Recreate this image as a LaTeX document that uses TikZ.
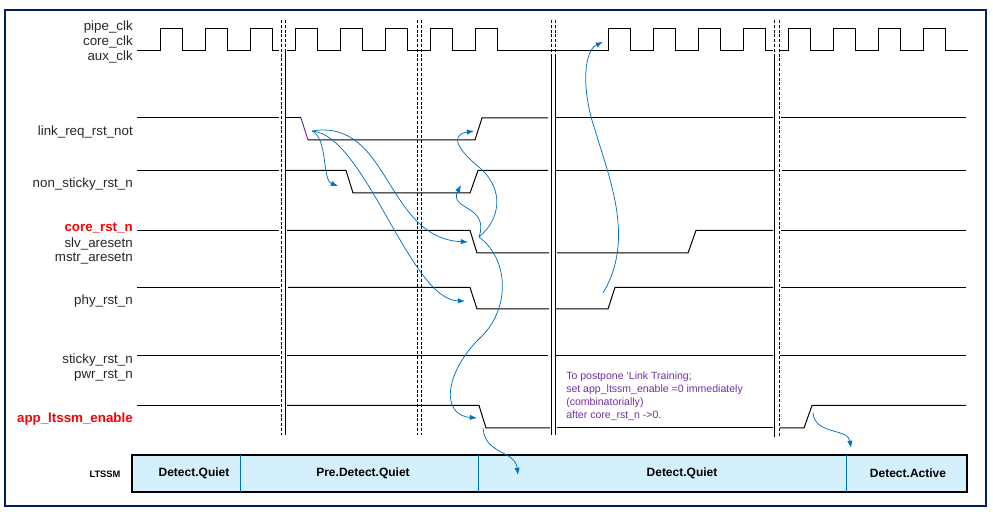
\documentclass[tikz,border=0pt]{standalone}
\usepackage{fontspec}
\setmainfont{Liberation Sans}
\usepackage{tikz}
\usetikzlibrary{arrows.meta}

\definecolor{navy}{RGB}{0,32,96}
\definecolor{linkblue}{RGB}{0,112,192}
\definecolor{notepurple}{RGB}{112,48,160}
\definecolor{statefill}{RGB}{212,240,252}

\begin{document}
\begin{tikzpicture}[x=0.75pt, y=-0.75pt,
    wave/.style={line width=0.75pt, black},
    lbl/.style={anchor=east, inner sep=0pt, text=black!85, font=\fontsize{10}{12}\selectfont},
    hot/.style={lbl, text=red, font=\fontsize{10}{12}\selectfont\bfseries},
    brk/.style={line width=0.65pt},
    brkdash/.style={brk, dash pattern=on 2.2pt off 1.4pt},
    arrow/.style={-{Latex[length=1.9mm,width=1.4mm]}, linkblue, line width=0.55pt},
    state/.style={font=\fontsize{9}{11}\selectfont\bfseries}
]
\useasboundingbox (0,0) rectangle (993,516);
\draw[navy, line width=1pt] (5,10) rectangle (986,506);

\node[lbl] (pipe) at (133,27) {pipe\_clk};
\node[lbl] (core) at (133,42) {core\_clk};
\node[lbl] (aux) at (133,57) {aux\_clk};
\node[lbl] (lrq) at (133,132) {link\_req\_rst\_not};
\node[lbl] (nsr) at (133,184) {non\_sticky\_rst\_n};
\node[hot] (crst) at (133,228) {core\_rst\_n};
\node[lbl] (slv) at (133,244) {slv\_aresetn};
\node[lbl] (mstr) at (133,259) {mstr\_aresetn};
\node[lbl] (phy) at (133,301) {phy\_rst\_n};
\node[lbl] (sticky) at (133,360) {sticky\_rst\_n};
\node[lbl] (pwr) at (133,376) {pwr\_rst\_n};
\node[hot] (app) at (133,419) {app\_ltssm\_enable};

\draw[wave] (137,51) foreach \r in {160,205,250} {-- (\r,51) -- (\r,29) -- (\r+22.5,29) -- (\r+22.5,51)} -- (279,51);
\draw[wave] (287,51) foreach \r in {295,340,385,430,475,608,653,698,743} {-- (\r,51) -- (\r,29) -- (\r+22.5,29) -- (\r+22.5,51)} -- (773,51);
\draw[wave] (780,51) foreach \r in {788,833,878,923} {-- (\r,51) -- (\r,29) -- (\r+22.5,29) -- (\r+22.5,51)} -- (968,51);

\draw[wave] (137,118) -- (279,118);
\draw[wave] (286,118) -- (301,118);
\draw[wave, notepurple] (301,118) -- (308,140);
\draw[wave] (308,140) -- (475,140) -- (482,118) -- (548,118);
\draw[wave] (556,118) -- (773,118);
\draw[wave] (781,118) -- (966,118);

\draw[wave] (137,170.5) -- (279,170.5);
\draw[wave] (286,170.5) -- (346,170.5) -- (353,193) -- (470,193) -- (478,170.5) -- (548,170.5);
\draw[wave] (556,170.5) -- (775,170.5);
\draw[wave] (782,170.5) -- (966,170.5);

\draw[wave] (137,230.5) -- (279,230.5);
\draw[wave] (287,230.5) -- (470,230.5) -- (477,253) -- (549,253);
\draw[wave] (557,253) -- (688,253) -- (696,230.5) -- (773,230.5);
\draw[wave] (781,230.5) -- (966,230.5);

\draw[wave] (137,287.5) -- (280,287.5);
\draw[wave] (288,287.5) -- (470,287.5) -- (477,309) -- (549,309);
\draw[wave] (556,309) -- (608,309) -- (615,287.5) -- (773,287.5);
\draw[wave] (781,287.5) -- (966,287.5);

\draw[wave] (137,356) -- (280,356);
\draw[wave] (287,356) -- (548,356);
\draw[wave] (556,356) -- (773,356);
\draw[wave] (780,356) -- (966,356);

\draw[wave] (137,405.5) -- (280,405.5);
\draw[wave] (287,405.5) -- (479,405.5) -- (486,428) -- (550,428);
\draw[wave] (557,428) -- (773,428);
\draw[wave] (780,428) -- (804,428) -- (812,405.5) -- (966,405.5);

\draw[brkdash] (281,20) -- (281,435);
\draw[brkdash] (285,20) -- (285,50);
\draw[brk] (285,50) -- (285,435);
\draw[brkdash] (417,20) -- (417,435);
\draw[brkdash] (421,20) -- (421,435);
\draw[brkdash] (551,20) -- (551,55);
\draw[brkdash] (555,20) -- (555,55);
\draw[brk] (551,55) -- (551,435);
\draw[brk] (555,55) -- (555,435);
\draw[brkdash] (774.5,20) -- (774.5,55);
\draw[brk] (774.5,55) -- (774.5,437);
\draw[brkdash] (779,20) -- (779,437);

\node[anchor=north west, inner sep=0pt, align=left, text=notepurple, font=\fontsize{7.9}{9.75}\selectfont] (note) at (566,371.5)
  {To postpone ‘Link Training;\\set app\_ltssm\_enable =0 immediately\\(combinatorially)\\after core\_rst\_n ->0.};

\draw[fill=statefill, line width=0.8pt] (132,455) rectangle (967,492);
\foreach \x in {240,478,846} \draw[linkblue, line width=0.7pt] (\x,455) -- (\x,492);
\node[font=\fontsize{7}{8}\selectfont\bfseries] (ltssm) at (105,474) {LTSSM};
\node[state] (dq1) at (194,473.5) {Detect.Quiet};
\node[state] (pdq) at (363,473.5) {Pre.Detect.Quiet};
\node[state] (dq2) at (682,473.5) {Detect.Quiet};
\node[state] (da) at (908,473.5) {Detect.Active};

\coordinate (lrq-fall) at (312,131);
\coordinate (nsr-fall) at (338,186);
\coordinate (core-fall) at (468,242);
\coordinate (phy-fall) at (465,301);
\coordinate (core-out) at (479,237);
\coordinate (lrq-rise) at (474,131);
\coordinate (nsr-rise) at (461,185);
\coordinate (app-fall) at (477,418);
\coordinate (app-out) at (483,428);
\coordinate (dq2-in) at (518,475);
\coordinate (phy-rise) at (603,293);
\coordinate (clk-on) at (603,42);
\coordinate (app-rise) at (813,413);
\coordinate (da-in) at (851,448);

\draw[arrow] (lrq-fall) .. controls (328,138) and (322,180) .. (nsr-fall);
\draw[arrow] (lrq-fall) .. controls (390,118) and (385,238) .. (core-fall);
\draw[arrow] (lrq-fall) .. controls (365,135) and (410,300) .. (phy-fall);
\draw[arrow] (core-out) .. controls (500,220) and (505,190) .. (480,168) .. controls (460,152) and (448,135) .. (lrq-rise);
\draw[arrow] (core-out) .. controls (490,205) and (448,210) .. (nsr-rise);
\draw[arrow] (core-out) .. controls (510,260) and (510,310) .. (480,338) .. controls (445,372) and (440,415) .. (app-fall);
\draw[arrow] (app-out) .. controls (485,455) and (515,450) .. (dq2-in);
\draw[arrow] (phy-rise) .. controls (635,240) and (610,180) .. (595,130) .. controls (580,85) and (585,50) .. (clk-on);
\draw[arrow] (app-rise) .. controls (815,435) and (848,428) .. (da-in);
\end{tikzpicture}
\end{document}
